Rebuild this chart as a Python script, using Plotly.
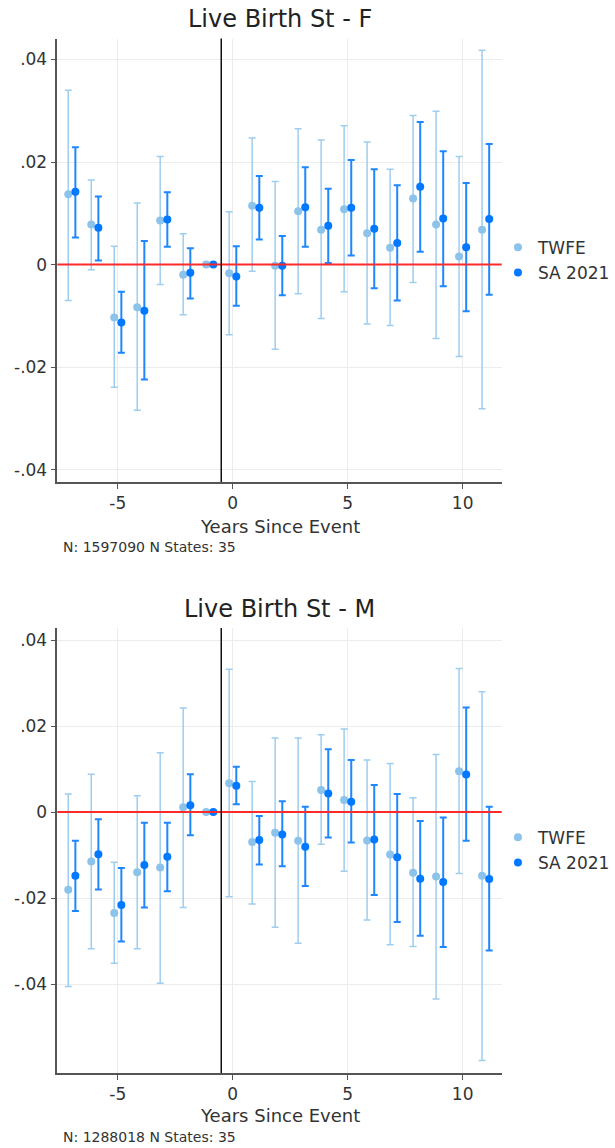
import plotly.graph_objects as go

# ---------------- data ----------------
event_time = [-7, -6, -5, -4, -3, -2, -1, 0, 1, 2, 3, 4, 5, 6, 7, 8, 9, 10, 11]
x_ticks = [-5, 0, 5, 10]
x_tick_labels = ["-5", "0", "5", "10"]
y_ticks = [-0.04, -0.02, 0, 0.02, 0.04]
y_tick_labels = ["-.04", "-.02", "0", ".02", ".04"]

# Panel F
f_twfe = [0.0137, 0.0078, -0.0103, -0.0083, 0.0086, -0.0020, 0.0, -0.0017, 0.0115, -0.0002,
          0.0104, 0.0068, 0.0108, 0.0061, 0.0033, 0.0129, 0.0078, 0.0016, 0.0068]
f_twfe_lo = [-0.0070, -0.0010, -0.0239, -0.0284, -0.0039, -0.0098, 0.0, -0.0137, -0.0013, -0.0165,
             -0.0057, -0.0105, -0.0053, -0.0116, -0.0119, -0.0035, -0.0144, -0.0179, -0.0281]
f_twfe_hi = [0.0340, 0.0165, 0.0036, 0.0120, 0.0211, 0.0060, 0.0, 0.0103, 0.0247, 0.0162,
             0.0265, 0.0243, 0.0271, 0.0239, 0.0186, 0.0291, 0.0299, 0.0211, 0.0418]
f_sa = [0.0142, 0.0072, -0.0113, -0.0090, 0.0088, -0.0016, 0.0, -0.0023, 0.0111, -0.0002,
        0.0112, 0.0076, 0.0111, 0.0070, 0.0042, 0.0152, 0.0090, 0.0034, 0.0089]
f_sa_lo = [0.0053, 0.0008, -0.0172, -0.0224, 0.0035, -0.0066, 0.0, -0.0080, 0.0049, -0.0060,
           0.0035, 0.0003, 0.0018, -0.0046, -0.0070, 0.0025, -0.0042, -0.0091, -0.0059]
f_sa_hi = [0.0229, 0.0133, -0.0053, 0.0046, 0.0141, 0.0032, 0.0, 0.0036, 0.0173, 0.0056,
           0.0190, 0.0148, 0.0204, 0.0186, 0.0155, 0.0278, 0.0221, 0.0159, 0.0235]

# Panel M
m_twfe = [-0.0181, -0.0115, -0.0235, -0.0140, -0.0129, 0.0011, 0.0, 0.0067, -0.0070, -0.0048,
          -0.0067, 0.0051, 0.0028, -0.0066, -0.0099, -0.0141, -0.0150, 0.0095, -0.0148]
m_twfe_lo = [-0.0406, -0.0318, -0.0352, -0.0318, -0.0398, -0.0222, 0.0, -0.0197, -0.0214, -0.0268,
             -0.0305, -0.0075, -0.0138, -0.0251, -0.0309, -0.0313, -0.0435, -0.0143, -0.0578]
m_twfe_hi = [0.0042, 0.0088, -0.0117, 0.0038, 0.0138, 0.0242, 0.0, 0.0332, 0.0071, 0.0172,
             0.0172, 0.0180, 0.0193, 0.0121, 0.0113, 0.0033, 0.0134, 0.0334, 0.0280]
m_sa = [-0.0148, -0.0098, -0.0216, -0.0123, -0.0104, 0.0016, 0.0, 0.0061, -0.0065, -0.0052,
        -0.0081, 0.0043, 0.0024, -0.0064, -0.0105, -0.0155, -0.0163, 0.0087, -0.0156]
m_sa_lo = [-0.0230, -0.0180, -0.0301, -0.0222, -0.0184, -0.0054, 0.0, 0.0018, -0.0122, -0.0126,
           -0.0172, -0.0059, -0.0071, -0.0193, -0.0256, -0.0288, -0.0314, -0.0067, -0.0322]
m_sa_hi = [-0.0067, -0.0017, -0.0130, -0.0025, -0.0025, 0.0088, 0.0, 0.0105, -0.0009, 0.0025,
           0.0012, 0.0146, 0.0121, 0.0063, 0.0042, -0.0021, -0.0013, 0.0243, 0.0012]

panels = [
    {"title": "Live Birth St - F", "note": "N: 1597090 N States: 35",
     "twfe": (f_twfe, f_twfe_lo, f_twfe_hi), "sa": (f_sa, f_sa_lo, f_sa_hi),
     "yrange": [-0.0424, 0.0441]},
    {"title": "Live Birth St - M", "note": "N: 1288018 N States: 35",
     "twfe": (m_twfe, m_twfe_lo, m_twfe_hi), "sa": (m_sa, m_sa_lo, m_sa_hi),
     "yrange": [-0.0607, 0.0428]},
]

# ---------------- style / layout ----------------
W, H = 615, 1148
FONT = "DejaVu Sans"
TXT = "#333333"
TWFE_PT, TWFE_BAR = "#8cc3eb", "#9fcdf0"
SA_PT, SA_BAR = "#0078ff", "#1e87ff"
OFFSET = 0.155

x_dom = [57.7 / W, 505 / W]
# pixel extents of each plot area (top, bottom)
plot_px = [(38.5, 482.0), (628.0, 1073.0)]
title_px = [19, 609]
xtitle_px = [526, 1115]
note_px = [546.5, 1136.5]
legend_px = [260.3, 850.3]


def py(p):
    return 1 - p / H


fig = go.Figure()
annotations = []
shapes = []

for i, pnl in enumerate(panels):
    xa = "x" if i == 0 else f"x{i+1}"
    ya = "y" if i == 0 else f"y{i+1}"
    leg = "legend" if i == 0 else f"legend{i+1}"
    for name, key, off, pc, bc, bw in [("TWFE", "twfe", -OFFSET, TWFE_PT, TWFE_BAR, 1.5),
                                         ("SA 2021", "sa", OFFSET, SA_PT, SA_BAR, 2.0)]:
        pt, lo, hi = pnl[key]
        fig.add_trace(go.Scatter(
            x=[t + off for t in event_time], y=pt, mode="markers", name=name,
            xaxis=xa, yaxis=ya, legend=leg,
            marker=dict(color=pc, size=8),
            error_y=dict(type="data", symmetric=False,
                         array=[h - p for h, p in zip(hi, pt)],
                         arrayminus=[p - l for p, l in zip(pt, lo)],
                         color=bc, thickness=bw, width=3.5),
        ))
    top, bot = plot_px[i]
    axis_common = dict(showline=True, linecolor="#555555", linewidth=1.5, mirror=False,
                       ticks="outside", ticklen=5, tickcolor="#555555", tickwidth=1,
                       showgrid=True, gridcolor="#ececec", gridwidth=1, zeroline=False,
                       showspikes=False,
                       tickfont=dict(family=FONT, size=17, color=TXT))
    fig.layout[("xaxis" if i == 0 else f"xaxis{i+1}")] = dict(
        domain=x_dom, anchor=ya, range=[-7.63, 11.7], tickvals=x_ticks, ticktext=x_tick_labels,
        **axis_common)
    fig.layout[("yaxis" if i == 0 else f"yaxis{i+1}")] = dict(
        domain=[py(bot), py(top)], anchor=xa, range=pnl["yrange"],
        tickvals=y_ticks, ticktext=y_tick_labels, **axis_common)

    shapes.append(dict(type="line", xref=f"{xa} domain", yref=ya, x0=0, x1=1, y0=0, y1=0,
                       line=dict(color="#ff2a2a", width=2), layer="above"))
    shapes.append(dict(type="line", xref=xa, yref=f"{ya} domain", x0=-0.5, x1=-0.5, y0=0, y1=1,
                       line=dict(color="#111111", width=1.5), layer="above"))

    xc = (x_dom[0] + x_dom[1]) / 2
    annotations.append(dict(text=pnl["title"], x=xc, y=py(title_px[i]), xref="paper", yref="paper",
                            xanchor="center", yanchor="middle", showarrow=False,
                            font=dict(family=FONT, size=24, color="#222222")))
    annotations.append(dict(text="Years Since Event", x=xc, y=py(xtitle_px[i]), xref="paper",
                            yref="paper", xanchor="center", yanchor="middle", showarrow=False,
                            font=dict(family=FONT, size=18, color=TXT)))
    annotations.append(dict(text=pnl["note"], x=61 / W, y=py(note_px[i]), xref="paper",
                            yref="paper", xanchor="left", yanchor="middle", showarrow=False,
                            font=dict(family=FONT, size=14, color=TXT)))

legend_style = dict(xanchor="left", yanchor="middle", bgcolor="rgba(0,0,0,0)",
                    font=dict(family=FONT, size=17, color=TXT), borderwidth=0)
fig.update_layout(
    width=W, height=H, margin=dict(l=0, r=0, t=0, b=0),
    paper_bgcolor="white", plot_bgcolor="white",
    showlegend=True, hovermode=False,
    legend=dict(x=0.815, y=py(legend_px[0]), **legend_style),
    legend2=dict(x=0.815, y=py(legend_px[1]), **legend_style),
    annotations=annotations, shapes=shapes,
)

fig.write_html(
    "out.html",
    config={"displayModeBar": False},
    post_script="document.body.style.margin='0';document.body.style.overflow='hidden';",
)
